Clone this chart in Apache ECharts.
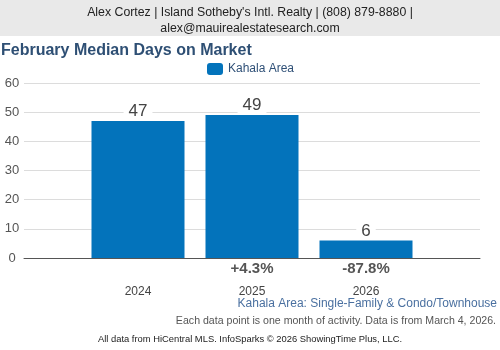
<!DOCTYPE html>
<html>
<head>
<meta charset="utf-8">
<style>
  html, body { margin: 0; padding: 0; background: #fff; }
  #chart { width: 500px; height: 350px; }
</style>
<script src="https://cdn.jsdelivr.net/npm/echarts@6/dist/echarts.min.js"></script>
</head>
<body>
<div id="chart"></div>
<script>
// February median days on market, Kahala Area
const categories = ['2024', '2025', '2026'];
const medianDays = [47, 49, 6];
const changeLabels = ['', '+4.3%', '-87.8%'];
const yTicks = [0, 10, 20, 30, 40, 50, 60];

const FONT = '"Liberation Sans", Arial, sans-serif';

// pad the axis with an empty slot on each side so the bars sit inside the wider gridlines
const axisCats = [''].concat(categories, ['']);
const barData = ['-'].concat(medianDays, ['-']);
const changeCats = [''].concat(changeLabels, ['']);

const chart = echarts.init(document.getElementById('chart'), null, { renderer: 'canvas' });

chart.setOption({
  animation: false,
  backgroundColor: '#fff',
  textStyle: { fontFamily: FONT },
  title: {
    text: 'February Median Days on Market',
    left: 1,
    top: 43,
    padding: 0,
    textStyle: { fontFamily: FONT, fontSize: 16, fontWeight: 'bold', color: '#2e4f74' }
  },
  legend: {
    top: 58,
    left: 202,
    itemWidth: 16,
    itemHeight: 12,
    itemGap: 6,
    icon: 'roundRect',
    textStyle: { fontFamily: FONT, fontSize: 12, color: '#2f5077' },
    data: ['Kahala Area']
  },
  grid: { left: 24, right: 20, top: 83, bottom: 92 },
  xAxis: [
    {
      type: 'category',
      data: axisCats,
      boundaryGap: false,
      offset: 19,
      axisLine: { lineStyle: { color: '#555', width: 1 } },
      axisTick: { show: false },
      splitLine: { show: false },
      axisLabel: { color: '#444', fontSize: 12, margin: 9, fontFamily: FONT, interval: 0 }
    },
    {
      type: 'category',
      position: 'bottom',
      data: changeCats,
      boundaryGap: false,
      axisLine: { show: false },
      axisTick: { show: false },
      splitLine: { show: false },
      axisLabel: { color: '#555', fontSize: 15, fontWeight: 'bold', margin: 3, fontFamily: FONT, interval: 0 }
    }
  ],
  yAxis: {
    type: 'value',
    min: yTicks[0],
    max: yTicks[yTicks.length - 1],
    interval: 10,
    axisLine: { show: false },
    axisTick: { show: false },
    splitLine: { lineStyle: { color: '#dcdcdc', width: 1 } },
    axisLabel: { color: '#555', fontSize: 13, margin: 12, align: 'center', padding: [4, 0, 0, 0], fontFamily: FONT }
  },
  series: [
    {
      name: 'Kahala Area',
      type: 'bar',
      xAxisIndex: 0,
      data: barData,
      barWidth: 93,
      itemStyle: { color: '#0373bb' },
      label: {
        show: true,
        position: 'top',
        distance: 1,
        fontSize: 17,
        lineHeight: 17,
        color: '#444',
        fontFamily: FONT,
        backgroundColor: '#fff',
        padding: [0, 5]
      }
    }
  ],
  graphic: [
    { type: 'rect', left: 0, top: 0, shape: { width: 500, height: 36 }, style: { fill: '#e9e9e9' }, silent: true },
    { type: 'text', left: 'center', top: 7,
      style: { text: "Alex Cortez | Island Sotheby's Intl. Realty | (808) 879-8880 |", font: '12.3px ' + FONT, fill: '#222' } },
    { type: 'text', left: 'center', top: 23,
      style: { text: 'alex@mauirealestatesearch.com', font: '12.3px ' + FONT, fill: '#222' } },
    { type: 'text', right: 3, top: 298,
      style: { text: 'Kahala Area: Single-Family & Condo/Townhouse', font: '12px ' + FONT, fill: '#4a70a0' } },
    { type: 'text', right: 4, top: 316,
      style: { text: 'Each data point is one month of activity. Data is from March 4, 2026.', font: '10.6px ' + FONT, fill: '#555' } },
    { type: 'text', left: 'center', top: 335,
      style: { text: 'All data from HiCentral MLS. InfoSparks \u00a9 2026 ShowingTime Plus, LLC.', font: '9.4px ' + FONT, fill: '#222' } }
  ]
});
</script>
</body>
</html>
